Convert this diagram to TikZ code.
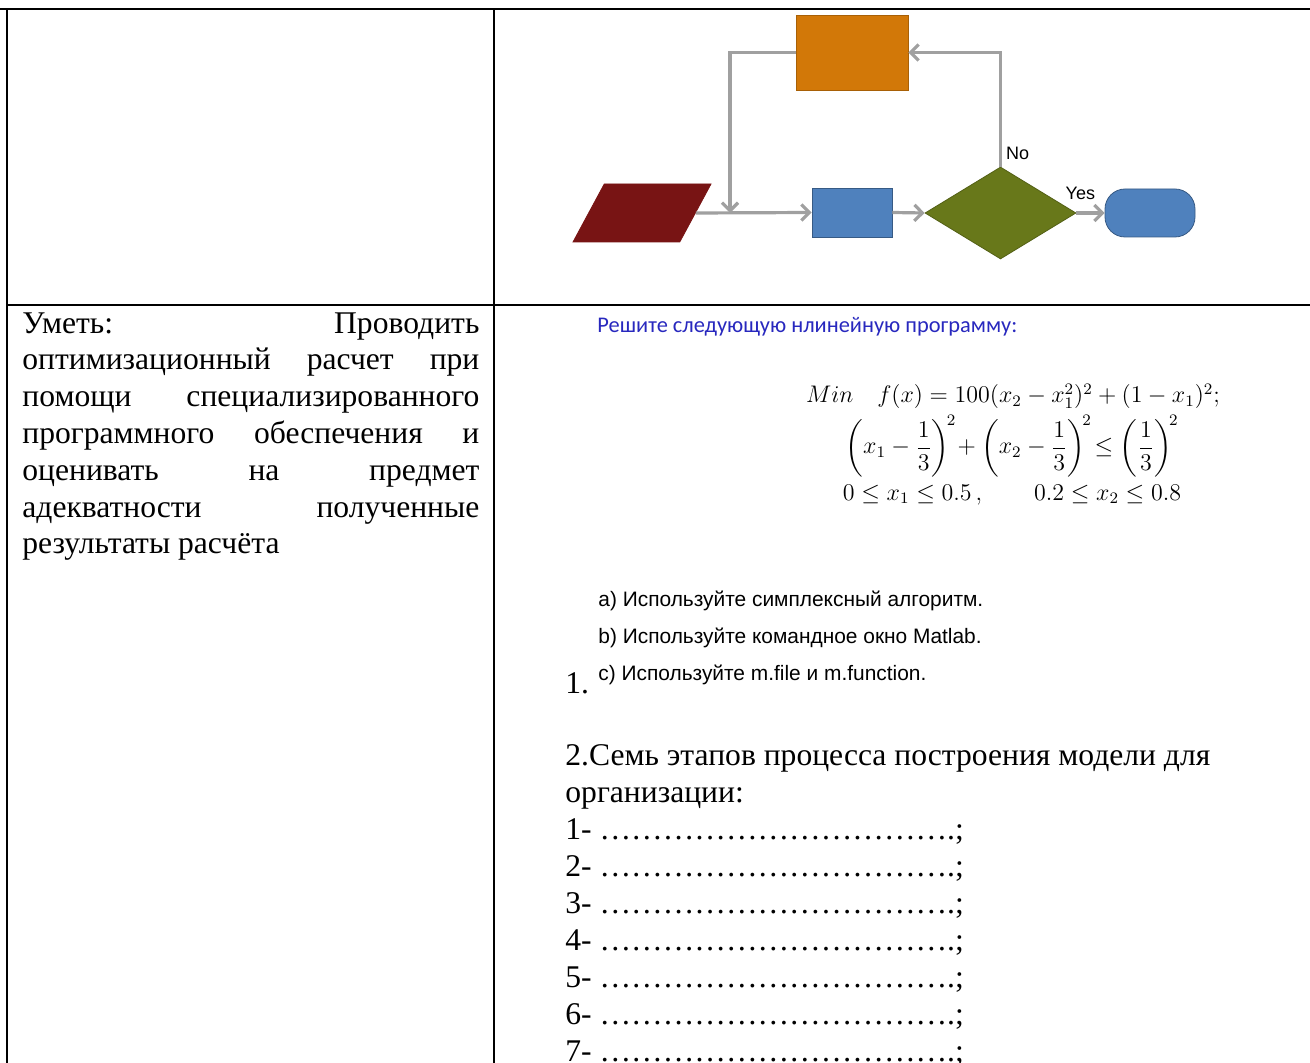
\documentclass[tikz,border=0pt]{standalone}
\usepackage{amsmath}
\usepackage{fontspec}
\setmainfont{Liberation Serif}
\newfontfamily\arialfont{Liberation Sans}
\newfontfamily\calibrifont{Carlito}
\usetikzlibrary{shapes.geometric,shapes.misc,arrows.meta,positioning}
\definecolor{flowgray}{RGB}{160,160,160}
\definecolor{updorange}{RGB}{210,120,8}
\definecolor{inpred}{RGB}{120,20,20}
\definecolor{procblue}{RGB}{79,129,189}
\definecolor{decgreen}{RGB}{104,120,26}
\definecolor{taskblue}{RGB}{40,40,190}
\tikzset{
    flowarrow/.style={draw=flowgray,line width=1.6pt,-{Straight Barb[length=4pt,width=8pt]}},
    flowlabel/.style={font=\arialfont\fontsize{9}{10}\selectfont,inner sep=2pt},
    cellfont/.style={font=\fontsize{15.8}{18.4}\selectfont,inner sep=0pt},
    sansitem/.style={font=\arialfont\fontsize{10.45}{12}\selectfont,inner sep=0pt,anchor=base west}
}
\begin{document}
\begin{tikzpicture}[x=0.5pt,y=-0.5pt]
        \useasboundingbox (0,0) rectangle (1310,1063);
        %% table rules
        \draw[line width=1pt] (0,9) -- (1310,9);
        \draw[line width=1pt] (7,305) -- (1310,305);
        \foreach \x in {7,494}
            \draw[line width=1pt] (\x,9) -- (\x,1063);
        %% flowchart
        \node[draw=updorange!80!black,fill=updorange,minimum width=56pt,minimum height=37.5pt] (upd) at (852,52.5) {};
        \node[trapezium,trapezium left angle=67.5,trapezium right angle=112.5,trapezium stretches=true,draw=inpred,fill=inpred,minimum width=69pt,minimum height=29pt,inner sep=2pt] (inp) at (642,213) {};
        \node[draw=procblue!70!black,fill=procblue,minimum width=40pt,minimum height=24.5pt] (proc) at (852,212.5) {};
        \node[diamond,aspect=1.64,draw=decgreen!80!black,fill=decgreen,minimum width=75.5pt,minimum height=46pt,inner sep=0pt] (dec) at (1000.5,213) {};
        \node[rounded corners=10pt,draw=procblue!70!black,fill=procblue,minimum width=45pt,minimum height=24pt] (term) at (1150,213) {};
        \coordinate (join) at (730,213);
        \draw[flowarrow] (inp.east) -- (proc.west);
        \draw[flowarrow] (upd.west) -| (join);
        \draw[flowarrow] (proc.east) -- (dec.west);
        \draw[flowarrow] (dec.east) -- node[flowlabel,pos=0.14,above=4pt] (yes) {Yes} (term.west);
        \draw[flowarrow] (dec.north) |- node[flowlabel,pos=0.06,right] (no) {No} (upd.east);
        %% left cell
        \node[cellfont,anchor=north west,text width=228.5pt,align=justify] (skill) at (22,312)
            {Уметь: Проводить\linebreak оптимизационный расчет при\linebreak помощи специализированного\linebreak программного обеспечения и\linebreak оценивать на предмет\linebreak адекватности полученные\linebreak результаты расчёта};
        %% task 1
        \node[font=\calibrifont\fontsize{11.2}{12}\selectfont,text=taskblue,inner sep=0pt,anchor=base west] (task) at (597,333) {Решите следующую нлинейную программу:};
        \node[font=\fontsize{12}{14}\selectfont,inner sep=0pt,anchor=base] (obj) at (1013,403)
            {$Min\quad f(x)=100(x_2-x_1^2)^2+(1-x_1)^2;$};
        \node[font=\fontsize{12}{14}\selectfont,inner sep=0pt] (cons) at (1012,446)
            {$\left(x_1-\dfrac{1}{3}\right)^{\!2}\!+\left(x_2-\dfrac{1}{3}\right)^{\!2}\!\le\left(\dfrac{1}{3}\right)^{\!2}$};
        \node[font=\fontsize{12}{14}\selectfont,inner sep=0pt,anchor=base] (bnds) at (1012,500)
            {$0\le x_1\le 0.5\,,\qquad 0.2\le x_2\le 0.8$};
        \node[sansitem] (itema) at (598,606) {a) Используйте симплексный алгоритм.};
        \node[sansitem] (itemb) at (598,643) {b) Используйте командное окно Matlab.};
        \node[sansitem] (itemc) at (598,680) {c) Используйте m.file и m.function.};
        \node[cellfont,anchor=base west] (num) at (565,693) {1.};
        %% task 2
        \node[cellfont,anchor=base west] (stages) at (565,765) {2.Семь этапов процесса построения модели для};
        \node[cellfont,anchor=base west] (org) at (565,802) {организации:};
        \foreach \n in {1,...,7}
            \node[cellfont,anchor=base west] (stage\n) at (565,{839+37*(\n-1)}) {\n- …………………………….;};
    \end{tikzpicture}
\end{document}
